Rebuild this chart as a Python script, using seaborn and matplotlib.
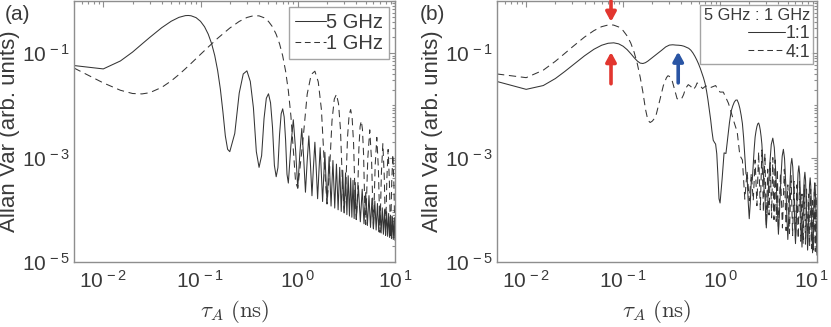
import numpy as np
import pandas as pd
import matplotlib
matplotlib.use("Agg")
import matplotlib.pyplot as plt
import matplotlib.transforms as mtransforms
import seaborn as sns
from matplotlib.ticker import FixedLocator, LogLocator, FuncFormatter, NullFormatter
from matplotlib.lines import Line2D

# ---------------- data ----------------
# panel (a): 5 GHz (solid)
a5_tau_low = [0.005, 0.01, 0.015, 0.02, 0.025, 0.03, 0.04, 0.05, 0.06, 0.07, 0.075, 0.08,
              0.09, 0.1, 0.11, 0.12, 0.13, 0.14, 0.15, 0.16, 0.17, 0.18, 0.19]
a5_val_low = [0.058, 0.050, 0.071, 0.105, 0.150, 0.200, 0.309, 0.41, 0.486, 0.525, 0.528, 0.521,
              0.48, 0.408, 0.321, 0.232, 0.153, 0.0905, 0.0467, 0.0205, 0.0075, 0.0026, 0.00144]
a5_tau_mid = np.arange(0.2, 0.79, 0.025)
a5_val_mid = [0.0013, 0.0029, 0.0172, 0.0400, 0.0459, 0.0288, 0.0090, 0.0013,
              6.5e-4, 1.09e-3, 5.6e-3, 0.0137, 0.0167, 0.0112, 0.0038, 7.1e-4,
              4.3e-4, 6.4e-4, 2.8e-3, 6.9e-3, 8.6e-3, 6.0e-3, 2.15e-3, 4.8e-4]
a5_tau_b = np.arange(0.8, 1.99, 0.05)
a5_val_b = [3.25e-4, 1.7e-3, 5.3e-3, 1.4e-3, 2.6e-4, 1.17e-3, 3.6e-3, 1.0e-3,
            2.17e-4, 8.6e-4, 2.6e-3, 7.5e-4, 1.86e-4, 6.6e-4, 1.97e-3, 5.9e-4,
            1.63e-4, 5.3e-4, 1.55e-3, 4.8e-4, 1.44e-4, 4.4e-4, 1.26e-3, 4.0e-4]
a5_tau_c = np.arange(2.0, 3.95, 0.1)
a5_val_c = [1.3e-4, 1.04e-3, 1.18e-4, 8.8e-4, 1.08e-4, 7.5e-4, 1.0e-4, 6.5e-4, 9.3e-5, 5.7e-4,
            8.7e-5, 5.1e-4, 8.1e-5, 4.5e-4, 7.6e-5, 4.05e-4, 7.2e-5, 3.66e-4, 6.8e-5, 3.33e-4]
a5_tau_d = np.arange(4.0, 10.01, 0.2)
a5_val_d = [6.5e-5, 2.9e-4, 5.9e-5, 2.48e-4, 5.4e-5, 2.14e-4, 5.0e-5, 1.87e-4, 4.6e-5, 1.65e-4,
            4.3e-5, 1.47e-4, 4.1e-5, 1.32e-4, 3.8e-5, 1.2e-4, 3.6e-5, 1.09e-4, 3.4e-5, 1.0e-4,
            3.25e-5, 9.2e-5, 3.1e-5, 8.5e-5, 2.95e-5, 7.9e-5, 2.8e-5, 7.4e-5, 2.7e-5, 6.9e-5, 2.6e-5]

# panel (a): 1 GHz (dashed)
a1_tau_low = [0.005, 0.01, 0.015, 0.02, 0.025, 0.03, 0.04, 0.05, 0.06, 0.07, 0.08, 0.1, 0.12,
              0.15, 0.2, 0.25, 0.3, 0.35, 0.4, 0.45, 0.5, 0.55, 0.6, 0.65, 0.7, 0.75, 0.8,
              0.85, 0.9, 0.95]
a1_val_low = [0.052, 0.027, 0.0195, 0.0169, 0.0166, 0.0175, 0.0222, 0.0295, 0.039, 0.0505,
              0.0638, 0.095, 0.131, 0.193, 0.303, 0.406, 0.483, 0.522, 0.519, 0.478, 0.406,
              0.320, 0.230, 0.151, 0.089, 0.0453, 0.0192, 0.0063, 0.00143, 3.4e-4]
a1_tau_mid = np.arange(1.0, 4.9, 0.125)
a1_val_mid = [2.6e-4, 1.94e-3, 0.0164, 0.0392, 0.0452, 0.0282, 0.0084, 7.6e-4,
              1.3e-4, 6.0e-4, 5.1e-3, 0.0132, 0.0163, 0.0108, 3.45e-3, 3.5e-4,
              8.7e-5, 3.0e-4, 2.48e-3, 6.56e-3, 8.34e-3, 5.69e-3, 1.87e-3, 2.1e-4,
              6.5e-5, 1.9e-4, 1.46e-3, 3.92e-3, 5.06e-3, 3.51e-3, 1.18e-3, 1.44e-4]
a1_tau_hi = np.arange(5.0, 10.01, 0.25)
a1_val_hi = [5.2e-5, 9.7e-4, 3.4e-3, 8.2e-4, 4.3e-5, 6.9e-4, 2.44e-3, 6.0e-4, 3.7e-5, 5.2e-4,
             1.84e-3, 4.5e-4, 3.25e-5, 4.0e-4, 1.43e-3, 3.6e-4, 2.9e-5, 3.3e-4, 1.15e-3, 3.0e-4,
             2.6e-5]

# panel (b): 1:1 (solid)
b11_tau_low = [0.005, 0.01, 0.015, 0.02, 0.025, 0.03, 0.04, 0.05, 0.06, 0.07, 0.08, 0.09, 0.1,
               0.11, 0.12, 0.13, 0.14, 0.15, 0.16, 0.17, 0.18]
b11_val_low = [0.0287, 0.0203, 0.024, 0.0327, 0.0446, 0.0585, 0.0892, 0.119, 0.142, 0.155,
               0.158, 0.151, 0.136, 0.117, 0.098, 0.082, 0.0708, 0.0646, 0.0635, 0.0659, 0.0706]
b11_tau_mid = np.arange(0.2, 0.99, 0.025)
b11_val_mid = [0.0822, 0.0972, 0.114, 0.132, 0.143, 0.145, 0.143, 0.142, 0.140, 0.136, 0.130,
               0.124, 0.114, 0.101, 0.0873, 0.0743, 0.0623, 0.0513, 0.0416, 0.0337, 0.0264,
               0.0191, 0.0128, 0.0083, 0.0053, 0.0032, 0.00215, 0.00196, 0.00181, 0.00118,
               0.00046, 1.63e-4]
b11_tau_b = np.arange(1.0, 2.99, 0.05)
b11_val_b = [1.35e-4, 3.9e-4, 1.23e-3, 1.2e-3, 2.38e-3, 4.66e-3, 7.7e-3, 9.7e-3, 0.0115, 0.0126,
             0.0127, 0.0110, 0.0088, 0.0065, 0.0045, 0.0024, 0.00108, 4.9e-4, 4.4e-4, 1.45e-4,
             6.75e-5, 1.35e-4, 3.7e-4, 3.7e-4, 7.4e-4, 1.47e-3, 2.48e-3, 3.23e-3, 3.94e-3,
             4.44e-3, 4.6e-3, 4.1e-3, 3.36e-3, 2.55e-3, 1.81e-3, 9.9e-4, 4.65e-4, 2.24e-4,
             2.07e-4, 7.9e-5]
b11_tau_hi = np.arange(3.0, 10.01, 0.125)
b11_val_hi = [4.5e-5, 1.85e-4, 7.1e-4, 1.79e-3, 2.36e-3, 1.56e-3, 5.4e-4, 1.27e-4,
              3.4e-5, 1.14e-4, 4.26e-4, 1.07e-3, 1.44e-3, 9.6e-4, 3.44e-4, 8.6e-5,
              2.7e-5, 7.9e-5, 2.84e-4, 7.2e-4, 9.65e-4, 6.55e-4, 2.39e-4, 6.3e-5,
              2.25e-5, 5.9e-5, 2.04e-4, 5.12e-4, 6.95e-4, 4.75e-4, 1.76e-4, 4.9e-5,
              1.93e-5, 4.6e-5, 1.54e-4, 3.85e-4, 5.24e-4, 3.61e-4, 1.36e-4, 3.9e-5,
              1.69e-5, 3.75e-5, 1.21e-4, 3.0e-4, 4.1e-4, 2.84e-4, 1.08e-4, 3.3e-5,
              1.5e-5, 3.1e-5, 9.8e-5, 2.41e-4, 3.29e-4, 2.29e-4, 8.9e-5, 2.8e-5,
              1.35e-5]

# panel (b): 4:1 (dashed)
b41_tau_low = [0.005, 0.01, 0.015, 0.02, 0.025, 0.03, 0.04, 0.05, 0.06, 0.07, 0.075, 0.08, 0.09,
               0.1, 0.11, 0.12, 0.13, 0.14, 0.15, 0.16]
b41_val_low = [0.040, 0.034, 0.0473, 0.070, 0.099, 0.132, 0.204, 0.271, 0.322, 0.347, 0.35,
               0.345, 0.318, 0.271, 0.214, 0.156, 0.104, 0.063, 0.0347, 0.0179]
b41_tau_mid = [0.17, 0.18, 0.19, 0.2, 0.21, 0.22, 0.24, 0.26, 0.28, 0.29, 0.30, 0.32, 0.34, 0.36,
               0.38, 0.40, 0.42, 0.44, 0.47, 0.50, 0.53, 0.56, 0.58, 0.62, 0.66, 0.70, 0.75,
               0.8, 0.85, 0.9, 0.95, 1.0, 1.08, 1.15, 1.22, 1.3, 1.37, 1.45]
b41_val_mid = [0.0085, 0.0052, 0.0047, 0.0050, 0.0056, 0.0068, 0.013, 0.024, 0.034, 0.037,
               0.036, 0.030, 0.020, 0.0135, 0.0128, 0.0133, 0.016, 0.021, 0.025, 0.023, 0.020,
               0.023, 0.027, 0.024, 0.021, 0.023, 0.024, 0.022, 0.023, 0.024, 0.020, 0.018,
               0.018, 0.014, 0.011, 0.0075, 0.0053, 0.0038]
b41_tau_b = np.arange(1.5, 3.95, 0.1)
b41_val_b = [3.2e-3, 1.1e-3, 9e-4, 1.6e-4, 5.5e-4, 1.5e-4, 5e-4, 1.5e-4, 9e-4, 1.2e-4,
             1.3e-3, 1.0e-4, 1.4e-3, 9e-5, 1.2e-3, 5e-5, 6e-4, 8e-5, 8e-4, 7e-5,
             1.0e-3, 6.5e-5, 9e-4, 6e-5, 6e-4]
b41_tau_hi = np.arange(4.0, 10.01, 0.2)
b41_val_hi = [4e-5, 5e-4, 4.5e-5, 6e-4, 4e-5, 3e-4, 3.5e-5, 4.5e-4, 3.2e-5, 3.5e-4,
              2.5e-5, 3e-4, 2.8e-5, 3.5e-4, 2.5e-5, 2e-4, 2.2e-5, 3e-4, 2.2e-5, 2.5e-4,
              2e-5, 2e-4, 2e-5, 2.5e-4, 1.8e-5, 1.5e-4, 1.7e-5, 2.2e-4, 1.6e-5, 1.8e-4, 1.5e-5]

# annotation arrows in panel (b): (tau, tail value, head value, colour)
arrow_tau = [0.075, 0.075, 0.37]
arrow_tail = [1.0, 0.026, 0.027]
arrow_head = [0.40, 0.105, 0.107]
arrow_col = ["#e2362f", "#e2362f", "#2a55a4"]


def build(parts, name):
    frames = []
    for t, v in parts:
        t = np.asarray(t, dtype=float)
        v = np.asarray(v, dtype=float)
        assert len(t) == len(v), (name, len(t), len(v))
        frames.append(pd.DataFrame({"tau": t, "val": v}))
    df = pd.concat(frames, ignore_index=True)
    df["curve"] = name
    return df

df_a5 = build([(a5_tau_low, a5_val_low), (a5_tau_mid, a5_val_mid), (a5_tau_b, a5_val_b),
               (a5_tau_c, a5_val_c), (a5_tau_d, a5_val_d)], "5 GHz")
df_a1 = build([(a1_tau_low, a1_val_low), (a1_tau_mid, a1_val_mid), (a1_tau_hi, a1_val_hi)], "1 GHz")
df_b11 = build([(b11_tau_low, b11_val_low), (b11_tau_mid, b11_val_mid), (b11_tau_b, b11_val_b),
                (b11_tau_hi, b11_val_hi)], "1:1")
df_b41 = build([(b41_tau_low, b41_val_low), (b41_tau_mid, b41_val_mid), (b41_tau_b, b41_val_b),
                (b41_tau_hi, b41_val_hi)], "4:1")

# ---------------- style ----------------
sns.set_style("white")
plt.rcParams["font.family"] = ["Liberation Sans", "DejaVu Sans"]
plt.rcParams["mathtext.fontset"] = "custom"
plt.rcParams["mathtext.rm"] = "Liberation Sans"
plt.rcParams["mathtext.it"] = "Liberation Sans:italic"
plt.rcParams["mathtext.bf"] = "Liberation Sans:bold"
TXT = "#3a3a3a"
SPINE = "#8e8e8e"
LINE = "#353535"
LW = 0.75
DASH = (0, (7.0, 4.5))

fig = plt.figure(figsize=(8.31, 3.27), dpi=100)
ax_a = fig.add_axes([74 / 831, 65 / 327, 321 / 831, 261 / 327])
ax_b = fig.add_axes([497 / 831, 65 / 327, 320 / 831, 261 / 327])


def fmt(v, pos):
    e = int(round(np.log10(v)))
    return r"$\mathrm{10^{\,%d}}$" % e


def style_axes(ax):
    ax.set_xscale("log")
    ax.set_yscale("log")
    ax.set_xlim(5e-3, 10)
    ax.set_ylim(1e-5, 1)
    ax.xaxis.set_major_locator(FixedLocator([1e-2, 1e-1, 1, 10]))
    ax.yaxis.set_major_locator(FixedLocator([1e-5, 1e-3, 1e-1]))
    ax.xaxis.set_minor_locator(LogLocator(base=10, subs=np.arange(2, 10), numticks=20))
    ax.yaxis.set_minor_locator(LogLocator(base=10, subs=np.arange(1, 10), numticks=20))
    ax.xaxis.set_major_formatter(FuncFormatter(fmt))
    ax.yaxis.set_major_formatter(FuncFormatter(fmt))
    ax.xaxis.set_minor_formatter(NullFormatter())
    ax.yaxis.set_minor_formatter(NullFormatter())
    ax.tick_params(which="both", direction="in", top=True, right=True, colors=SPINE,
                   labelcolor=TXT, labelsize=15, width=0.8)
    ax.tick_params(which="major", length=4)
    ax.tick_params(which="minor", length=2)
    ax.tick_params(axis="x", pad=6)
    ax.tick_params(axis="y", pad=3)
    for s in ax.spines.values():
        s.set_color(SPINE)
        s.set_linewidth(1.0)
        s.set_visible(True)
    xl = ax.set_xlabel(r"$\tau_A\ (\mathrm{ns})$", fontsize=16.5, color=TXT, labelpad=4)
    xl.set_math_fontfamily("cm")
    ax.set_ylabel("Allan Var (arb. units)", fontsize=16, color=TXT, labelpad=1)


# panel (a)
sns.lineplot(data=df_a5, x="tau", y="val", ax=ax_a, color=LINE, lw=LW,
             estimator=None, sort=False, legend=False)
sns.lineplot(data=df_a1, x="tau", y="val", ax=ax_a, color=LINE, lw=LW,
             estimator=None, sort=False, legend=False, linestyle=DASH)
# panel (b)
sns.lineplot(data=df_b11, x="tau", y="val", ax=ax_b, color=LINE, lw=LW,
             estimator=None, sort=False, legend=False)
sns.lineplot(data=df_b41, x="tau", y="val", ax=ax_b, color=LINE, lw=LW,
             estimator=None, sort=False, legend=False, linestyle=DASH)

for ax in (ax_a, ax_b):
    style_axes(ax)

h_solid = Line2D([], [], color=LINE, lw=LW)
h_dash = Line2D([], [], color=LINE, lw=LW, linestyle=(0, (5.5, 3.5)))

leg_a = ax_a.legend([h_solid, h_dash], ["5 GHz", "1 GHz"], loc="upper right",
                    fontsize=14.5, frameon=True, fancybox=False, handlelength=1.55,
                    handletextpad=0.0, borderpad=0.3, labelspacing=0.08,
                    borderaxespad=0.3)
leg_a.get_frame().set_edgecolor(SPINE)
leg_a.get_frame().set_linewidth(1.0)
for t in leg_a.get_texts():
    t.set_color(TXT)

leg_b = ax_b.legend([h_solid, h_dash], ["1:1", "4:1"], loc="upper right",
                    title="5 GHz : 1 GHz", title_fontsize=11.8, fontsize=12.8,
                    frameon=True, fancybox=False, handlelength=2.1, handletextpad=0.0,
                    borderpad=0.2, labelspacing=0.1, borderaxespad=0.2,
                    alignment="right")
leg_b.get_frame().set_edgecolor(SPINE)
leg_b.get_frame().set_linewidth(1.0)
leg_b.get_title().set_color(TXT)
for t in leg_b.get_texts():
    t.set_color(TXT)

for t, y0, y1, c in zip(arrow_tau, arrow_tail, arrow_head, arrow_col):
    ax_b.annotate("", xy=(t, y1), xytext=(t, y0),
                  arrowprops=dict(arrowstyle="-|>,head_length=0.55,head_width=0.3",
                                  color=c, lw=2.6, shrinkA=0, shrinkB=0),
                  annotation_clip=False)

fig.text(5 / 831, 1 - 14 / 327, "(a)", fontsize=15, color=TXT, va="center", ha="left")
fig.text(420 / 831, 1 - 14 / 327, "(b)", fontsize=15, color=TXT, va="center", ha="left")

# keep the right-most tick label of panel (b) inside the canvas, as in the reference
last = ax_b.xaxis.get_major_ticks()[-1].label1
last.set_transform(last.get_transform() +
                   mtransforms.ScaledTranslation(-6 / 100, 0, fig.dpi_scale_trans))

fig.savefig("out.png", dpi=100)
